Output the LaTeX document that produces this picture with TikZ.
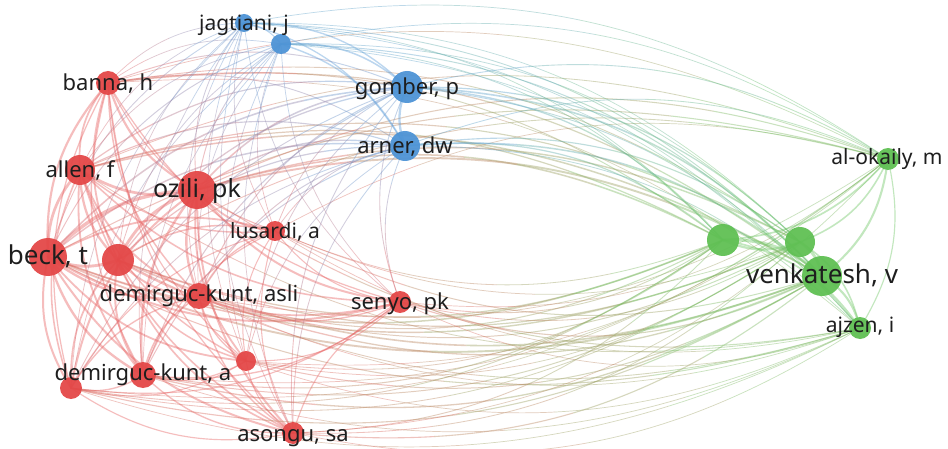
\documentclass[tikz,border=0pt]{standalone}
\usepackage{fontspec}
\setmainfont{Noto Sans}
\definecolor{cR}{RGB}{228,72,72}
\definecolor{cB}{RGB}{78,148,214}
\definecolor{cG}{RGB}{96,192,84}
\colorlet{c0}{cR}
\colorlet{c1}{cB}
\colorlet{c2}{cG}
\colorlet{l0}{cR!85!white}
\colorlet{l1}{cB!90!white}
\colorlet{l2}{cG!90!white}
\definecolor{labcol}{RGB}{30,30,30}
\tikzset{
  vnode/.style={circle, inner sep=0pt, draw=none, minimum size=#1},
  vlabel/.style={text=labcol, inner sep=0pt, text height=0.72em, text depth=0.22em,
    yshift=-5pt, font=\fontsize{#1}{#1}\selectfont},
  link/.style={line cap=round},
  xlink/.style={line cap=butt}
}
\begin{document}
\begin{tikzpicture}[x=1pt,y=-1pt]
\useasboundingbox[fill=white] (0,0) rectangle (948,449);
\def\NX{{108,80,197,48,118,199,275,400,143,246,71,293,244,281,407,405,888,723,800,822,860}}
\def\NY{{83,170,190,257,260,296,231,302,375,361,388,433,23,44,87,146,159,240,242,276,328}}
\def\NR{{12,15,19,19,16,13,10,11,13,10,11,11,9,10,16,15,11,16,15,20,11}}
\def\NC{{0,0,0,0,0,0,0,0,0,0,0,0,1,1,1,1,2,2,2,2,2}}
\foreach \k/\x/\y in {
  1/108/83, 2/80/170, 3/197/190, 4/48/257, 5/118/260,
  6/199/296, 7/275/231, 8/400/302, 9/143/375, 10/246/361,
  11/71/388, 12/293/433, 13/244/23, 14/281/44, 15/407/87,
  16/405/146, 17/888/159, 18/723/240, 19/800/242,
  20/822/276, 21/860/328}{
  \coordinate (n\k) at (\x,\y);
}
% links
\foreach \i in {1,...,20}{
  \pgfmathtruncatemacro\jstart{\i+1}
  \foreach \j in {\jstart,...,21}{
      \pgfmathsetmacro\xa{\NX[\i-1]}
      \pgfmathsetmacro\ya{\NY[\i-1]}
      \pgfmathsetmacro\xb{\NX[\j-1]}
      \pgfmathsetmacro\yb{\NY[\j-1]}
      \pgfmathsetmacro\ra{\NR[\i-1]}
      \pgfmathsetmacro\rb{\NR[\j-1]}
      \pgfmathtruncatemacro\ka{\NC[\i-1]}
      \pgfmathtruncatemacro\kb{\NC[\j-1]}
      \pgfmathsetmacro\sgn{((\yb-\ya)/100)*(((\xa+\xb)/2-474)/100)-((\xb-\xa)/100)*(((\ya+\yb)/2-230)/100)}
      \pgfmathsetmacro\ang{\sgn>0 ? 22 : -22}
      \ifnum\ka=\kb\relax
        \pgfmathsetmacro\wid{max(1.0,0.0095*\ra*\rb)}
        \draw[link, color=l\ka, line width=\wid pt, draw opacity=0.42]
          (n\i) to[bend left=\ang] (n\j);
      \else
        \pgfmathsetmacro\wid{max(0.7,0.005*\ra*\rb)}
        \pgfmathsetmacro\seg{1.025*veclen(\xb-\xa,\yb-\ya)/4}
        \foreach \q/\p in {0/87.5,1/62.5,2/37.5,3/12.5}{
          \pgfmathsetmacro\offl{max(0.01,\q*\seg)}
          \pgfmathsetmacro\onl{\q==3 ? \seg+60 : \seg}
          \draw[xlink, color=l\ka!\p!l\kb, line width=\wid pt, draw opacity=0.42,
                dash pattern=on 0pt off \offl pt on \onl pt off 4000pt]
            (n\i) to[bend left=\ang] (n\j);
        }
      \fi
  }
}
% nodes
\foreach \k/\r/\c in {
  1/12/R, 2/15/R, 3/19/R, 4/19/R, 5/16/R,
  6/13/R, 7/10/R, 8/11/R, 9/13/R, 10/10/R,
  11/11/R, 12/11/R, 13/9/B, 14/10/B, 15/16/B,
  16/15/B, 17/11/G, 18/16/G, 19/15/G,
  20/20/G, 21/11/G}{
  \node[vnode={2*\r pt}, fill=c\c, fill opacity=0.95] (v\k) at (n\k) {};
}
% labels
\node[vlabel=22] (t1) at (n1) {banna, h};
\node[vlabel=22] (t2) at (n2) {allen, f};
\node[vlabel=25] (t3) at (n3) {ozili, pk};
\node[vlabel=26] (t4) at (n4) {beck, t};
\node[vlabel=22] (t6) at ([yshift=2pt]n6) {demirguc-kunt, asli};
\node[vlabel=21] (t7) at (n7) {lusardi, a};
\node[vlabel=22] (t8) at (n8) {senyo, pk};
\node[vlabel=22] (t9) at ([yshift=2pt]n9) {demirguc-kunt, a};
\node[vlabel=22] (t12) at ([yshift=-1pt]n12) {asongu, sa};
\node[vlabel=21] (t13) at (n13) {jagtiani, j};
\node[vlabel=22] (t15) at (n15) {gomber, p};
\node[vlabel=22] (t16) at (n16) {arner, dw};
\node[vlabel=21] (t17) at ([xshift=-1pt,yshift=2pt]n17) {al-okaily, m};
\node[vlabel=26] (t20) at (n20) {venkatesh, v};
\node[vlabel=21] (t21) at ([yshift=3pt]n21) {ajzen, i};
\end{tikzpicture}
\end{document}
